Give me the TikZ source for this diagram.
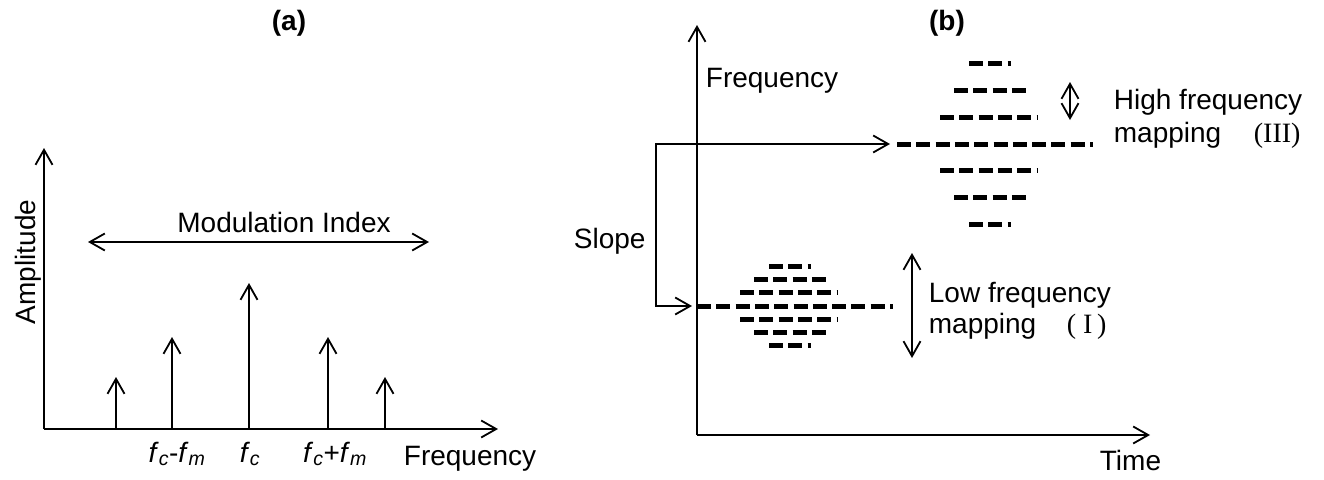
\documentclass[tikz,border=0pt]{standalone}
\usepackage{fontspec}
\setmainfont{Liberation Sans}
\newfontfamily\romanfont{Liberation Serif}
\usetikzlibrary{arrows.meta}
\newcommand\dashcluster[3]{%
  \draw[dashrow] (#1,#2) -- ++(196,0);
  \foreach \s in {1,-1}{%
    \draw[dashrow] (#1+43,#2+\s*#3) -- ++(98,0);
    \draw[dashrow] (#1+57,#2+2*\s*#3) -- ++(72,0);
    \draw[dashrow] (#1+72,#2+3*\s*#3) -- ++(42,0);
  }}
\begin{document}
\begin{tikzpicture}[x=1pt,y=-1pt,
  line width=1.8pt,
  tip/.tip={Straight Barb[length=15pt,width=17pt,line width=1.8pt]},
  ax/.style={-tip},
  dbl/.style={tip-tip},
  dashrow/.style={line width=5pt, dash pattern=on 14pt off 5.3pt, line cap=butt},
  lbl/.style={font=\fontsize{28}{32}\selectfont, inner sep=0pt},
  ttl/.style={font=\bfseries\fontsize{28}{32}\selectfont, inner sep=0pt}]
\useasboundingbox (0,0) rectangle (1324,479);

% ---------- panel (a)
\node[ttl, anchor=base] (ta) at (289,30) {(a)};
\coordinate (aO) at (44,429);
\coordinate (aY) at (44,148);
\coordinate (aX) at (498,429);
\draw[ax] (aO) -- (aY);
\draw[ax] (aO) -- (aX);
\foreach \i/\x/\t in {1/116/377,2/172/337,3/249/283,4/328/337,5/385/377}{
  \coordinate (sb\i) at (\x,429);
  \coordinate (st\i) at (\x,\t);
  \draw[ax] (sb\i) -- (st\i);
}
\coordinate (mL) at (88,242);
\coordinate (mR) at (429,242);
\draw[dbl] (mL) -- (mR);
\node[lbl, anchor=base] (mi) at (284,232) {Modulation Index};
\node[lbl, anchor=base, rotate=90] (amp) at (35,262) {Amplitude};
\node[lbl, anchor=base] (l1) at (177,462) {\textit{f}\textsubscript{\textit{c}}-\textit{f}\textsubscript{\textit{m}}};
\node[lbl, anchor=base] (l2) at (250,462) {\textit{f}\textsubscript{\textit{c}}};
\node[lbl, anchor=base] (l3) at (335,462) {\textit{f}\textsubscript{\textit{c}}+\textit{f}\textsubscript{\textit{m}}};
\node[lbl, anchor=base west] (fa) at (403,465) {Frequency};

% ---------- panel (b)
\node[ttl, anchor=base] (tb) at (947,30) {(b)};
\coordinate (bO) at (697,435);
\coordinate (bY) at (697,25);
\coordinate (bX) at (1150,435);
\draw[ax] (bO) -- (bY);
\draw[ax] (bO) -- (bX);
\node[lbl, anchor=base west] (fb) at (705,87) {Frequency};
\node[lbl, anchor=base west] (tm) at (1099,470) {Time};
\node[lbl, anchor=base west] (sl) at (573,248) {Slope};

\coordinate (hiT) at (890,144);
\coordinate (loT) at (692,306);
\coordinate (c1) at (656,144);
\coordinate (c2) at (656,306);
\draw[dbl] (hiT) -- (c1) -- (c2) -- (loT);

\dashcluster{897}{144}{26.7}
\dashcluster{697}{306}{13.3}

\coordinate (hA) at (1070,82);
\coordinate (hB) at (1070,120);
\draw[dbl] (hA) -- (hB);
\coordinate (lA) at (912,253);
\coordinate (lB) at (912,358);
\draw[dbl] (lA) -- (lB);

\node[lbl, anchor=base west] (hf1) at (1113,109) {High frequency};
\node[lbl, anchor=base west] (hf2) at (1113,142) {mapping};
\node[lbl, anchor=base west, font=\romanfont\fontsize{28}{32}\selectfont] (hf3) at (1253,142) {(III)};
\node[lbl, anchor=base west] (lf1) at (928,302) {Low frequency};
\node[lbl, anchor=base west] (lf2) at (928,333) {mapping};
\node[lbl, anchor=base west, font=\romanfont\fontsize{28}{32}\selectfont] (lf3) at (1066,333) {( I\,)};
\end{tikzpicture}
\end{document}
